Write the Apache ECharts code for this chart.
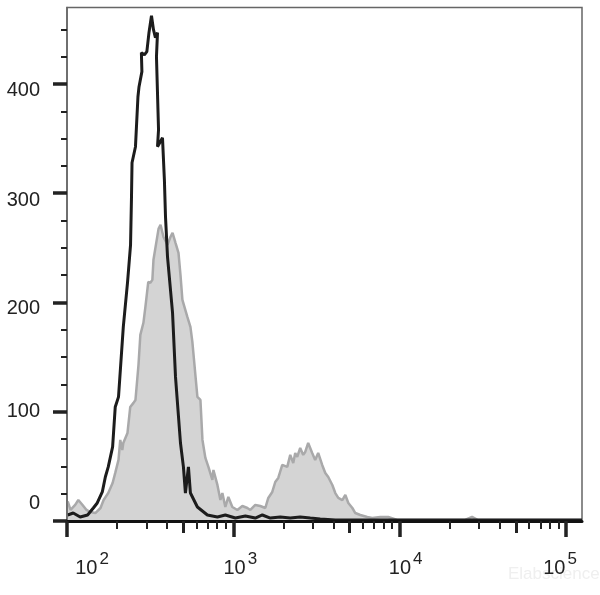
<!DOCTYPE html>
<html><head><meta charset="utf-8">
<script src="https://cdn.jsdelivr.net/npm/echarts@6.0.0/dist/echarts.min.js"></script>
<style>html,body{margin:0;padding:0;background:#fff}#c{width:600px;height:595px}</style>
</head><body><div id="c"></div>
<script>
// Isotype control (black outline)
const isotypeFL = [101,109,120,133,144,152,163,170,177,188,195,204,218,231,241,244,246,258,267,271,282,280,292,302,311,322,331,340,350,345,355,350,375,385,391,402,431,449,481,501,515,537,552,608,698,802,895,1028,1181,1355,1494,1668,1916,2198,2523,2900,3327,4100,5796,124700];
const isotypeCount = [5.5,7.3,3.7,5.5,11.9,16.5,26.6,40.3,49.5,67.8,104.4,113.6,177.7,218.0,252.8,294.0,327.9,342.6,388.3,397.5,411.3,428.6,426.8,429.6,447.0,462.5,449.7,442.4,447.0,424.9,358.1,342.6,350.8,312.3,278.4,241.8,190.5,131.9,71.4,49.5,25.6,49.5,25.6,12.8,5.5,3.7,5.5,2.7,4.6,2.7,5.5,2.7,3.7,2.7,3.7,2.7,1.8,0.9,0.9,0.9];
// Stained sample (grey filled)
const stainedFL = [101,105,112,117,124,131,138,148,159,166,177,188,195,204,209,215,218,231,240,251,258,269,276,288,296,308,317,326,331,355,365,380,402,419,431,449,468,481,494,529,552,567,608,634,652,679,708,748,759,802,836,859,895,933,986,1057,1133,1214,1265,1355,1452,1556,1622,1714,1786,1862,1968,2109,2198,2291,2355,2421,2523,2630,2704,2818,2978,3104,3236,3420,3570,3720,3935,4100,4274,4519,4711,4911,5193,5409,5796,6383,6839,7638,8531,9666,13280,24700,27220,29580,124700];
const stainedCount = [18.0,10.1,14.7,19.2,14.7,10.1,8.2,7.3,11.9,19.2,25.6,34.8,44.0,55.9,74.2,65.0,71.4,80.6,104.4,108.1,110.8,142.9,170.4,181.4,196.0,218.9,218.0,220.7,239.1,267.4,271.1,260.1,252.8,260.1,263.8,254.6,245.5,225.3,202.4,186.8,177.7,164.0,113.6,110.8,74.2,57.7,49.5,37.6,46.7,33.0,19.2,25.6,12.8,22.0,12.8,10.1,13.7,11.9,10.1,14.7,13.7,11.9,21.1,26.6,35.7,39.4,51.3,49.5,60.5,53.1,62.3,58.6,66.9,60.5,63.2,71.4,62.3,55.9,62.3,51.3,44.0,40.3,33.0,25.6,21.1,19.2,23.8,16.5,11.9,7.3,5.5,3.7,2.7,3.7,3.7,0.9,0.9,0.9,3.7,0.9,0.9];

const xMajorTicks = [100,1000,10000,100000];
const xMidTicks = [500,5000,50000];
const xMinorTicks = [200,300,400,600,700,800,900,2000,3000,4000,6000,7000,8000,9000,20000,30000,40000,60000,70000,80000,90000];
const yTickLabels = [0,100,200,300,400];
const yMinorTicks = [25,50,75,125,150,175,225,250,275,325,350,375,425,450];

const X_MIN = 100, X_MAX = 124700, Y_MIN = 0, Y_MAX = 470;
const FONT = 'Liberation Sans, Arial, sans-serif';
const TXT = '#222';

const isotype = isotypeFL.map((v,i)=>[v, isotypeCount[i]]);
const stained = stainedFL.map((v,i)=>[v, stainedCount[i]]);

// per-label placement (matches reference offsets)
const xLabPad = {2:[50,0],3:[14,0],4:[12,0],5:[0,12]};
const xRich = {};
[2,3,4,5].forEach(e=>{
  xRich['b'+e] = {fontSize:20, fontFamily:FONT, color:TXT, lineHeight:20, padding:[14,0,0,xLabPad[e][0]]};
  xRich['s'+e] = {fontSize:17, fontFamily:FONT, color:TXT, lineHeight:17, verticalAlign:'top', padding:[0,xLabPad[e][1],0,2]};
});
const yLabPad = {0:[0,0,36,0],100:[0,0,0,0],200:[12,0,0,0],300:[14,0,0,0],400:[14,0,0,0]};
const yRich = {};
yTickLabels.forEach(v=>{ yRich['y'+v] = {fontSize:20, fontFamily:FONT, color:TXT, lineHeight:20, padding:yLabPad[v]}; });

function xAxisBase(extra){
  return Object.assign({
    type:'log', logBase:10, min:X_MIN, max:X_MAX, position:'bottom', z:10,
    splitLine:{show:false}, axisLine:{show:false}, axisLabel:{show:false}
  }, extra);
}

const chart = echarts.init(document.getElementById('c'), null, {renderer:'canvas'});
chart.setOption({
  animation:false,
  backgroundColor:'#fff',
  grid:{left:67, right:18, top:7.5, bottom:74, show:true, borderColor:'#666', borderWidth:1.5, backgroundColor:'transparent'},
  xAxis:[
    xAxisBase({
      axisLine:{show:true, onZero:false, lineStyle:{color:'#111', width:3}},
      axisTick:{show:true, customValues:xMajorTicks, length:16, lineStyle:{color:TXT, width:3.5}},
      axisLabel:{show:true, customValues:xMajorTicks, margin:30, rich:xRich,
        formatter:v=>{const e=Math.round(Math.log10(v)); return '{b'+e+'|10}{s'+e+'|'+e+'}';}}
    }),
    xAxisBase({axisTick:{show:true, customValues:xMidTicks, length:12, lineStyle:{color:TXT, width:3}}}),
    xAxisBase({axisTick:{show:true, customValues:xMinorTicks, length:8, lineStyle:{color:TXT, width:2}}})
  ],
  yAxis:[
    {type:'value', min:Y_MIN, max:Y_MAX, position:'left', z:10, splitLine:{show:false},
     axisLine:{show:true, lineStyle:{color:'#666', width:1.5}},
     axisTick:{show:true, customValues:yTickLabels, length:14, lineStyle:{color:TXT, width:3.5}},
     axisLabel:{show:true, customValues:yTickLabels, margin:27, rich:yRich, formatter:v=>'{y'+v+'|'+v+'}'}},
    {type:'value', min:Y_MIN, max:Y_MAX, position:'left', z:10, splitLine:{show:false},
     axisLine:{show:false}, axisLabel:{show:false},
     axisTick:{show:true, customValues:yMinorTicks, length:6, lineStyle:{color:TXT, width:2}}}
  ],
  graphic:[{type:'text', left:508, top:566, z:-1, style:{text:'Elabscience', fontSize:17, fontFamily:FONT, fill:'#efefef'}}],
  series:[
    {type:'line', name:'Stained', xAxisIndex:0, yAxisIndex:0, data:stained, showSymbol:false, smooth:false,
     lineStyle:{color:'#a9a9aa', width:2.5}, areaStyle:{color:'#d4d4d4', opacity:1}, z:2},
    {type:'line', name:'Isotype', xAxisIndex:0, yAxisIndex:0, data:isotype, showSymbol:false, smooth:false,
     lineStyle:{color:'#1c1c1c', width:3}, z:3}
  ]
});
</script></body></html>
